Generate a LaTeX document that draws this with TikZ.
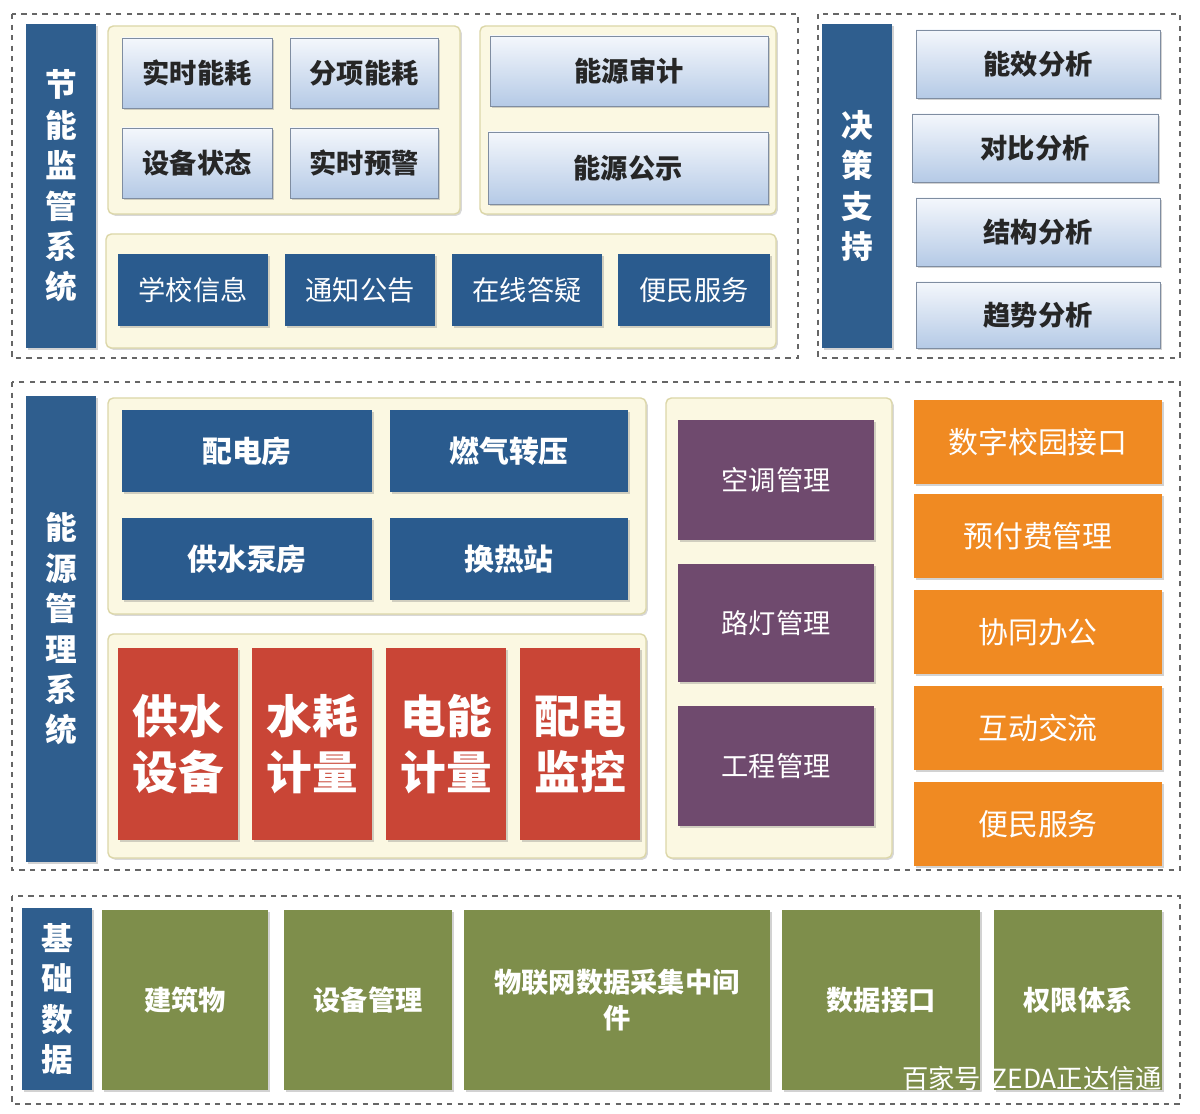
\documentclass[tikz,border=0pt]{standalone}
\usepackage{fontspec}
\setmainfont{Noto Sans CJK SC}
\usetikzlibrary{shadows}
\definecolor{tb}{HTML}{2F5E8E}
\definecolor{db}{HTML}{2A5B8E}
\definecolor{cream}{HTML}{FBF8E2}
\definecolor{creamb}{HTML}{DCD7A8}
\definecolor{rd}{HTML}{C94536}
\definecolor{pu}{HTML}{6F4A6E}
\definecolor{og}{HTML}{F08A22}
\definecolor{gr}{HTML}{7E8E4B}
\definecolor{lbt}{HTML}{F4F7FC}
\definecolor{lbb}{HTML}{B5CAE6}
\newcommand\bx[7]{\node[#1,inner sep=0pt,align=center,minimum width={(#4-#2)*0.02cm},minimum height={(#5-#3)*0.02cm}] (#6) at ({(#2+#4)/2},{(#3+#5)/2}) {#7};}
\begin{document}
\begin{tikzpicture}[x=0.02cm,y=-0.02cm,
 panel/.style={draw=gray!80!black,dashed,line width=0.6pt},
 b/.style={drop shadow={shadow xshift=1.2pt,shadow yshift=-1.2pt,opacity=0.35}},
 tbar/.style={b,fill=tb,text=white,font=\fontsize{18}{23}\selectfont\bfseries},
 cr/.style={fill=cream,draw=creamb,rounded corners=3pt,line width=0.8pt,drop shadow={shadow xshift=1pt,shadow yshift=-1pt,opacity=0.3}},
 lb/.style={b,top color=lbt,bottom color=lbb,draw=lbb!70!black,line width=0.4pt,text=black!85,font=\fontsize{15.5}{18}\selectfont\bfseries},
 dbx/.style={b,fill=db,text=white,font=\fontsize{15.5}{18}\selectfont},
 dbb/.style={b,fill=db,text=white,font=\fontsize{17}{20}\selectfont\bfseries},
 rdx/.style={b,fill=rd,text=white,font=\fontsize{26}{32}\selectfont\bfseries},
 pux/.style={b,fill=pu,text=white,font=\fontsize{15.5}{18}\selectfont},
 ogx/.style={b,fill=og,text=white,font=\fontsize{17}{20}\selectfont},
 grx/.style={b,fill=gr,text=white,font=\fontsize{15.5}{20}\selectfont\bfseries},
]
\useasboundingbox[fill=white] (0,0) rectangle (1200,1114);
% panel 1
\draw[panel] (12,14) rectangle (798,358);
\bx{tbar}{26}{24}{96}{348}{t1}{节\\能\\监\\管\\系\\统}
\bx{cr}{108}{26}{460}{214}{c1}{}
\bx{cr}{480}{26}{776}{214}{c2}{}
\bx{cr}{106}{234}{776}{348}{c3}{}
\bx{lb}{122}{38}{272}{108}{a1}{实时能耗}
\bx{lb}{290}{38}{438}{108}{a2}{分项能耗}
\bx{lb}{122}{128}{272}{198}{a3}{设备状态}
\bx{lb}{290}{128}{438}{198}{a4}{实时预警}
\bx{lb}{490}{36}{768}{106}{a5}{能源审计}
\bx{lb}{488}{132}{768}{204}{a6}{能源公示}
\bx{dbx}{118}{254}{268}{326}{s1}{学校信息}
\bx{dbx}{285}{254}{435}{326}{s2}{通知公告}
\bx{dbx}{452}{254}{602}{326}{s3}{在线答疑}
\bx{dbx}{618}{254}{770}{326}{s4}{便民服务}
% panel 2
\draw[panel] (818,14) rectangle (1180,358);
\bx{tbar}{822}{24}{892}{348}{t2}{决\\策\\支\\持}
\bx{lb}{916}{30}{1160}{98}{d1}{能效分析}
\bx{lb}{912}{114}{1158}{182}{d2}{对比分析}
\bx{lb}{916}{198}{1160}{266}{d3}{结构分析}
\bx{lb}{916}{282}{1160}{348}{d4}{趋势分析}
% panel 3
\draw[panel] (12,382) rectangle (1180,870);
\bx{tbar}{26}{396}{96}{862}{t3}{能\\源\\管\\理\\系\\统}
\bx{cr}{108}{398}{646}{614}{c4}{}
\bx{cr}{108}{634}{646}{858}{c5}{}
\bx{cr}{666}{398}{892}{858}{c6}{}
\bx{dbb}{122}{410}{372}{492}{e1}{配电房}
\bx{dbb}{390}{410}{628}{492}{e2}{燃气转压}
\bx{dbb}{122}{518}{372}{600}{e3}{供水泵房}
\bx{dbb}{390}{518}{628}{600}{e4}{换热站}
\bx{rdx}{118}{648}{238}{840}{r1}{供水\\设备}
\bx{rdx}{252}{648}{372}{840}{r2}{水耗\\计量}
\bx{rdx}{386}{648}{506}{840}{r3}{电能\\计量}
\bx{rdx}{520}{648}{640}{840}{r4}{配电\\监控}
\bx{pux}{678}{420}{874}{540}{p1}{空调管理}
\bx{pux}{678}{564}{874}{682}{p2}{路灯管理}
\bx{pux}{678}{706}{874}{826}{p3}{工程管理}
\bx{ogx}{914}{400}{1162}{484}{o1}{数字校园接口}
\bx{ogx}{914}{494}{1162}{578}{o2}{预付费管理}
\bx{ogx}{914}{590}{1162}{674}{o3}{协同办公}
\bx{ogx}{914}{686}{1162}{770}{o4}{互动交流}
\bx{ogx}{914}{782}{1162}{866}{o5}{便民服务}
% panel 4
\draw[panel] (12,896) rectangle (1180,1104);
\bx{tbar}{22}{908}{92}{1090}{t4}{基\\础\\数\\据}
\bx{grx}{102}{910}{268}{1090}{g1}{建筑物}
\bx{grx}{284}{910}{452}{1090}{g2}{设备管理}
\bx{grx}{464}{910}{770}{1090}{g3}{物联网数据采集中间\\件}
\bx{grx}{782}{910}{980}{1090}{g4}{数据接口}
\bx{grx}{994}{910}{1162}{1090}{g5}{权限体系}
\begin{scope}
\clip (880,1050) rectangle (1176,1100);
\node[anchor=west,text=white,font=\fontsize{15}{18}\selectfont] (wm) at (896,1080) {百家号/ZEDA正达信通};
\end{scope}
\end{tikzpicture}
\end{document}
